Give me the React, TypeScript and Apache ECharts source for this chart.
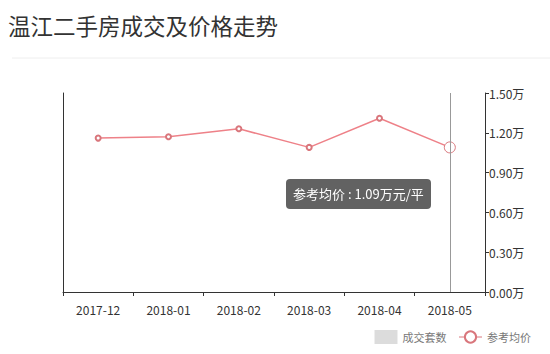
import React, { useEffect, useRef } from "react";
import * as echarts from "echarts";

const title = "温江二手房成交及价格走势";
const categories = ["2017-12", "2018-01", "2018-02", "2018-03", "2018-04", "2018-05"];
const dealCounts: number[] = [];
const avgPrices = [1.16, 1.17, 1.23, 1.09, 1.31, 1.09];
const priceTicks = { min: 0, max: 1.5, interval: 0.3 };
const barName = "成交套数";
const lineName = "参考均价";

export default function App() {
  const ref = useRef<HTMLDivElement>(null);
  useEffect(() => {
    document.body.style.margin = "0";
    const chart = echarts.init(ref.current!, undefined, { renderer: "svg" });
    const font = "'Noto Sans CJK SC', 'Noto Sans', sans-serif";
    chart.setOption({
      animation: false,
      backgroundColor: "#fff",
      textStyle: { fontFamily: font },
      title: {
        text: title,
        left: 3,
        top: 9,
        textStyle: { fontSize: 22.5, fontWeight: "normal", color: "#333", fontFamily: font },
      },
      graphic: [
        {
          type: "line",
          shape: { x1: 12, y1: 58, x2: 550, y2: 58 },
          style: { stroke: "#eeeeee", lineWidth: 1 },
        },
      ],
      grid: { left: 63, right: 65, top: 93, bottom: 62 },
      legend: {
        right: 14,
        top: 325,
        itemWidth: 23,
        itemHeight: 14,
        itemGap: 12,
        itemStyle: { borderWidth: 1 },
        lineStyle: { width: 1 },
        textStyle: { color: "#777", fontSize: 11, fontFamily: font },
        data: [
          { name: barName, icon: "rect", itemStyle: { borderWidth: 0 } },
          { name: lineName, itemStyle: { borderWidth: 1 } },
        ],
      },
      tooltip: {
        trigger: "axis",
        alwaysShowContent: true,
        showContent: true,
        backgroundColor: "rgba(85,85,85,0.92)",
        borderWidth: 0,
        borderRadius: 4,
        padding: [5, 7],
        textStyle: { color: "#fff", fontSize: 13, fontFamily: font },
        position: () => [286, 179],
        formatter: (params: any) => {
          const p = (Array.isArray(params) ? params : [params]).find((x: any) => x.seriesName === lineName);
          return p ? `${lineName} : ${Number(p.value).toFixed(2)}万元/平` : "";
        },
        axisPointer: {
          type: "line",
          lineStyle: { color: "#999", width: 1, type: "solid" },
        },
        extraCssText: "box-shadow:none;",
      },
      xAxis: {
        type: "category",
        data: categories,
        boundaryGap: true,
        axisLine: { lineStyle: { color: "#333" } },
        axisTick: { show: true, interval: 0, length: 4, lineStyle: { color: "#333" } },
        axisLabel: { color: "#333", fontSize: 12, margin: 11, interval: 0 },
      },
      yAxis: [
        {
          type: "value",
          position: "left",
          min: 0,
          max: 100,
          axisLine: { show: true, lineStyle: { color: "#333" } },
          axisTick: { show: false },
          axisLabel: { show: false },
          splitLine: { show: false },
        },
        {
          type: "value",
          position: "right",
          min: priceTicks.min,
          max: priceTicks.max,
          interval: priceTicks.interval,
          axisLine: { show: true, lineStyle: { color: "#333" } },
          axisTick: { show: true, length: 4, lineStyle: { color: "#333" } },
          axisLabel: {
            color: "#333",
            fontSize: 12,
            margin: 4,
            formatter: (v: number) => v.toFixed(2) + "万",
          },
          splitLine: { show: false },
        },
      ],
      series: [
        {
          name: barName,
          type: "bar",
          yAxisIndex: 0,
          data: dealCounts,
          itemStyle: { color: "#dcdcdc" },
        },
        {
          name: lineName,
          type: "line",
          yAxisIndex: 1,
          data: avgPrices,
          symbol: "emptyCircle",
          symbolSize: 5,
          showAllSymbol: true,
          lineStyle: { color: "#d9767c", width: 1.5 },
          itemStyle: { color: "#d9767c", borderWidth: 1 },
          emphasis: { scale: 2.2, itemStyle: { borderWidth: 1 }, lineStyle: { width: 1.5 } },
        },
      ],
    });
    chart.dispatchAction({ type: "showTip", seriesIndex: 1, dataIndex: 5 });
    return () => chart.dispose();
  }, []);
  return <div ref={ref} style={{ width: 550, height: 354 }} />;
}
